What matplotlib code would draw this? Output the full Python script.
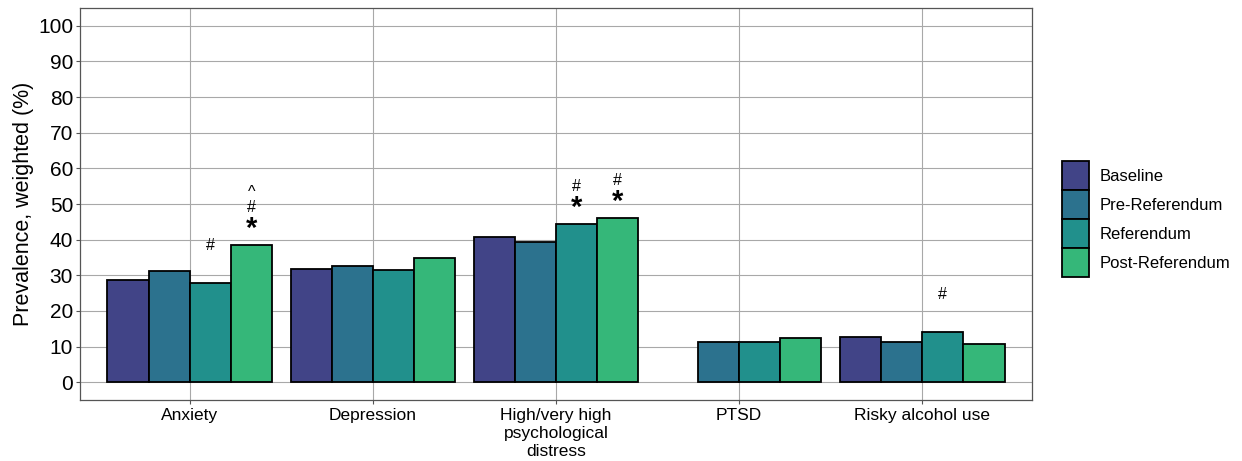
import numpy as np
import matplotlib
matplotlib.use('Agg')
import matplotlib.pyplot as plt
from matplotlib.patches import Patch

plt.rcParams['font.family'] = ['Liberation Sans', 'DejaVu Sans']

# prevalence by outcome and survey period
outcomes = ['Anxiety', 'Depression', 'High/very high\npsychological\ndistress', 'PTSD', 'Risky alcohol use']
periods = ['Baseline', 'Pre-Referendum', 'Referendum', 'Post-Referendum']
baseline = [28.7, 31.7, 40.8, np.nan, 12.6]
pre_ref = [31.3, 32.6, 39.3, 11.4, 11.3]
referendum = [27.8, 31.5, 44.3, 11.2, 14.0]
post_ref = [38.4, 34.8, 46.2, 12.3, 10.8]
colours = ['#414487', '#2C728E', '#21908C', '#35B779']

# significance marks: (outcome index, period index, marks)
marks = [
    (0, 2, '#'),
    (0, 3, '*#^'),
    (2, 2, '*#'),
    (2, 3, '*#'),
    (4, 2, '#'),
]

series = [baseline, pre_ref, referendum, post_ref]

fig = plt.figure(figsize=(12.42, 4.61), dpi=100)
ax = fig.add_axes([0.0644, 0.1323, 0.7665, 0.8503])

x = np.arange(1, len(outcomes) + 1)
w = 0.225
for i, vals in enumerate(series):
    ax.bar(x + (i - 1.5) * w, vals, width=w, color=colours[i],
           edgecolor='black', linewidth=1.3, zorder=3)

# stacked symbols above bars
offsets = {'*': 11.5, '#': 27.0, '^': 38.0}
for oi, pi, s in marks:
    xpos = x[oi] + (pi - 1.5) * w
    top = series[pi][oi]
    for ch in s:
        if ch == '*':
            ax.annotate('*', (xpos, top), xytext=(0, offsets[ch]), textcoords='offset points',
                        ha='center', va='center', fontsize=21, fontweight='bold', zorder=4)
        else:
            ax.annotate(ch, (xpos, top), xytext=(0, offsets[ch]), textcoords='offset points',
                        ha='center', va='center', fontsize=11.5, zorder=4)

ax.set_xlim(0.4, 5.6)
ax.set_ylim(-5, 105)
ax.set_yticks(np.arange(0, 101, 10))
ax.set_xticks(x)
ax.set_xticklabels(outcomes, fontsize=12.5, linespacing=1.25)
ax.tick_params(axis='y', labelsize=15, length=3, color='#555555', pad=2)
ax.tick_params(axis='x', length=3, color='#555555', pad=3)
ax.set_ylabel('Prevalence, weighted (%)', fontsize=15.5, labelpad=3)

ax.grid(True, color='#A8A8A8', linewidth=0.8, zorder=0)
ax.set_axisbelow(True)
for sp in ax.spines.values():
    sp.set_color('#555555')
    sp.set_linewidth(0.9)

handles = [Patch(facecolor=c, edgecolor='black', linewidth=1.3) for c in colours]
fig.legend(handles, periods, loc='center left', bbox_to_anchor=(0.8495, 0.525),
           frameon=False, fontsize=12, handlelength=1.65, handleheight=2.3,
           handletextpad=0.6, labelspacing=0.0, borderaxespad=0)

fig.savefig('out.png', dpi=100)
